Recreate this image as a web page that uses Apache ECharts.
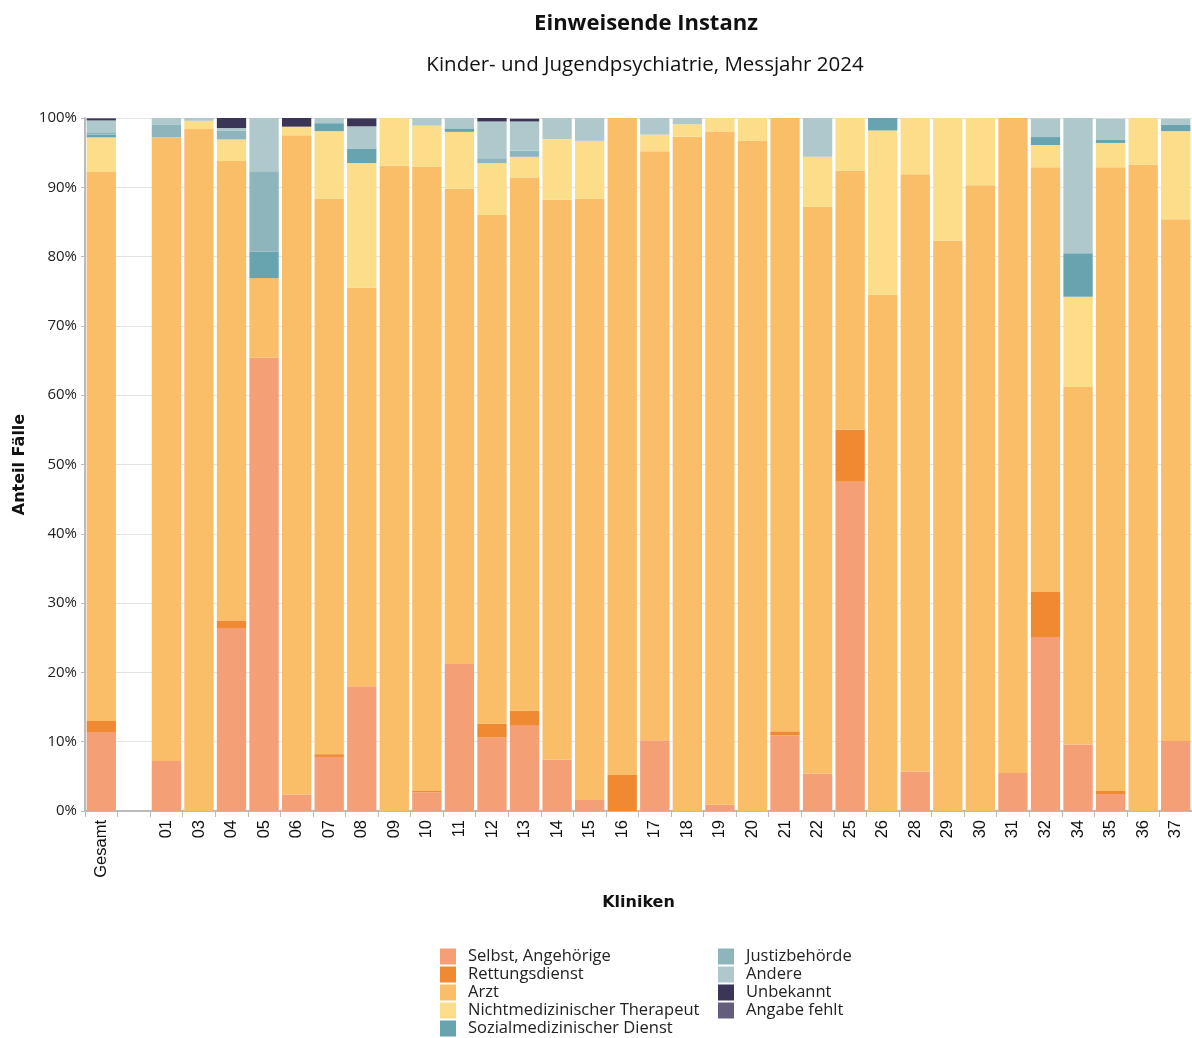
<!DOCTYPE html>
<html><head><meta charset="utf-8">
<script src="https://cdn.jsdelivr.net/npm/echarts@6/dist/echarts.min.js"></script>
<style>html,body{margin:0;padding:0;background:#fff}#c{width:1192px;height:1038px}</style>
</head><body><div id="c"></div>
<script>
const categories = ['Gesamt','','01','03','04','05','06','07','08','09','10','11','12','13','14','15','16','17','18','19','20','21','22','25','26','28','29','30','31','32','34','35','36','37'];
const seriesNames = ['Selbst, Angehörige','Rettungsdienst','Arzt','Nichtmedizinischer Therapeut','Sozialmedizinischer Dienst','Justizbehörde','Andere','Unbekannt','Angabe fehlt'];
const seriesColors = ['#f49f76','#f08a32','#fabe69','#fbdd8a','#67a4b0','#8eb5bc','#afc8cc','#3b3558','#645d7c'];
//                 Gesamt  _    01   03   04   05   06   07   08   09   10   11   12   13   14   15   16   17   18   19   20   21   22   25   26   28   29   30   31   32   34   35   36   37
const selbst     = [11.4,null,7.2, 0,  26.4,65.4,2.4, 7.8, 18.0,0,   2.7, 21.2,10.6,12.4,7.4, 1.6, 0,   10.2,0,   0.9, 0,   10.9,5.4, 47.5,0,   5.7, 0,   0,   5.5, 25.1,9.6, 2.45,0,   10.1];
const rettung    = [1.6, null,0,   0,  1.1, 0,   0,   0.4, 0,   0,   0.2, 0,   2.0, 2.1, 0,   0,   5.2, 0,   0,   0,   0,   0.6, 0,   7.5, 0,   0,   0,   0,   0,   6.5, 0,   0.45,0,   0];
const arzt       = [79.2,null,90.0,98.4,66.3,11.5,95.1,80.2,57.5,93.1,90.1,68.6,73.4,76.9,80.8,86.8,94.8,85.0,97.3,97.1,96.7,88.5,81.8,37.4,74.5,86.2,82.3,90.3,94.5,61.3,51.6,90.0,93.3,75.3];
const nichtmed   = [5.0, null,0,   1.2,3.1, 0,   1.25,9.7, 18.0,6.9, 5.9, 8.2, 7.5, 3.0, 8.75,8.3, 0,   2.4, 1.8, 2.0, 3.3, 0,   7.2, 7.6, 23.7,8.1, 17.7,9.7, 0,   3.2, 13.0,3.5, 6.7, 12.7];
const sozial     = [0.4, null,0,   0,  0,   3.8, 0,   1.15,2.1, 0,   0,   0.5, 0,   0,   0,   0,   0,   0,   0,   0,   0,   0,   0,   0,   1.8, 0,   0,   0,   0,   1.15,6.3, 0.5, 0,   0.9];
const justiz     = [0.35,null,1.8, 0,  1.25,11.6,0,   0,   0,   0,   0,   0,   0.7, 0.9, 0,   0,   0,   0,   0,   0,   0,   0,   0,   0,   0,   0,   0,   0,   0,   0,   0,   0,   0,   0];
const andere     = [1.7, null,1.0, 0.4,0.4, 7.7, 0,   0.8, 3.2, 0,   1.1, 1.5, 5.3, 4.2, 3.1, 3.3, 0,   2.4, 0.9, 0,   0,   0,   5.6, 0,   0,   0,   0,   0,   0,   2.7, 19.5,3.0, 0,   0.9];
const unbekannt  = [0.3, null,0,   0,  1.5, 0,   1.25,0,   1.15,0,   0,   0,   0.5, 0.4, 0,   0,   0,   0,   0,   0,   0,   0,   0,   0,   0,   0,   0,   0,   0,   0,   0,   0,   0,   0];
const angabe     = [0,   null,0,   0,  0,   0,   0,   0,   0,   0,   0,   0,   0,   0,   0,   0,   0,   0,   0,   0,   0,   0,   0,   0,   0,   0,   0,   0,   0,   0,   0,   0,   0,   0];
const yTicks = [0,10,20,30,40,50,60,70,80,90,100];

const allData = [selbst,rettung,arzt,nichtmed,sozial,justiz,andere,unbekannt,angabe];
const FONT = 'Open Sans';
const chart = echarts.init(document.getElementById('c'), null, {renderer:'canvas'});
const legendText = {fontFamily:FONT, fontSize:16.5, lineHeight:16, color:'#222', padding:[0,0,0,7]};
chart.setOption({
  animation:false,
  color: seriesColors,
  title:[
    {text:'Einweisende Instanz', left:641, top:8, textAlign:'center',
     textStyle:{fontFamily:FONT, fontWeight:'bold', fontSize:22, color:'#111'}},
    {text:'Kinder- und Jugendpsychiatrie, Messjahr 2024', left:640, top:50, textAlign:'center',
     textStyle:{fontFamily:FONT, fontWeight:'normal', fontSize:20.5, color:'#111'}}
  ],
  legend:[
    {data:seriesNames.slice(0,5), orient:'vertical', left:440, top:948, height:120, padding:0, itemWidth:16, itemHeight:16, itemGap:1, icon:'rect',
     textStyle:legendText},
    {data:seriesNames.slice(5), orient:'vertical', left:718, top:948, height:120, padding:0, itemWidth:16, itemHeight:16, itemGap:1, icon:'rect',
     textStyle:legendText}
  ],
  grid:{left:85, right:0, top:118, bottom:227, containLabel:false},
  xAxis:{
    type:'category', data:categories,
    name:'Kliniken', nameLocation:'middle', nameGap:84,
    nameTextStyle:{fontFamily:'DejaVu Sans', fontWeight:'bold', fontSize:16, color:'#111'},
    axisLine:{lineStyle:{color:'#bbb', width:2}},
    axisTick:{show:true, alignWithLabel:false, length:6, lineStyle:{color:'#bbb'}},
    axisLabel:{rotate:90, fontFamily:'Liberation Sans', fontSize:16.5, color:'#111', margin:9, interval:0}
  },
  yAxis:{
    type:'value', min:0, max:100, interval:10,
    name:'Anteil Fälle', nameLocation:'middle', nameGap:56,
    nameTextStyle:{fontFamily:'DejaVu Sans', fontWeight:'bold', fontSize:16, color:'#111'},
    axisLine:{show:true, lineStyle:{color:'#bbb', width:2}},
    axisTick:{show:true, length:4, lineStyle:{color:'#bbb'}},
    splitLine:{lineStyle:{color:'#e3e3e3'}},
    axisLabel:{fontFamily:FONT, fontSize:15, color:'#222', margin:8, formatter:v=>v+'%'}
  },
  series: seriesNames.map((n,i)=>({
    name:n, type:'bar', stack:'s', data:allData[i], barCategoryGap:'10%',
    itemStyle:{color:seriesColors[i]}
  }))
});
</script></body></html>
